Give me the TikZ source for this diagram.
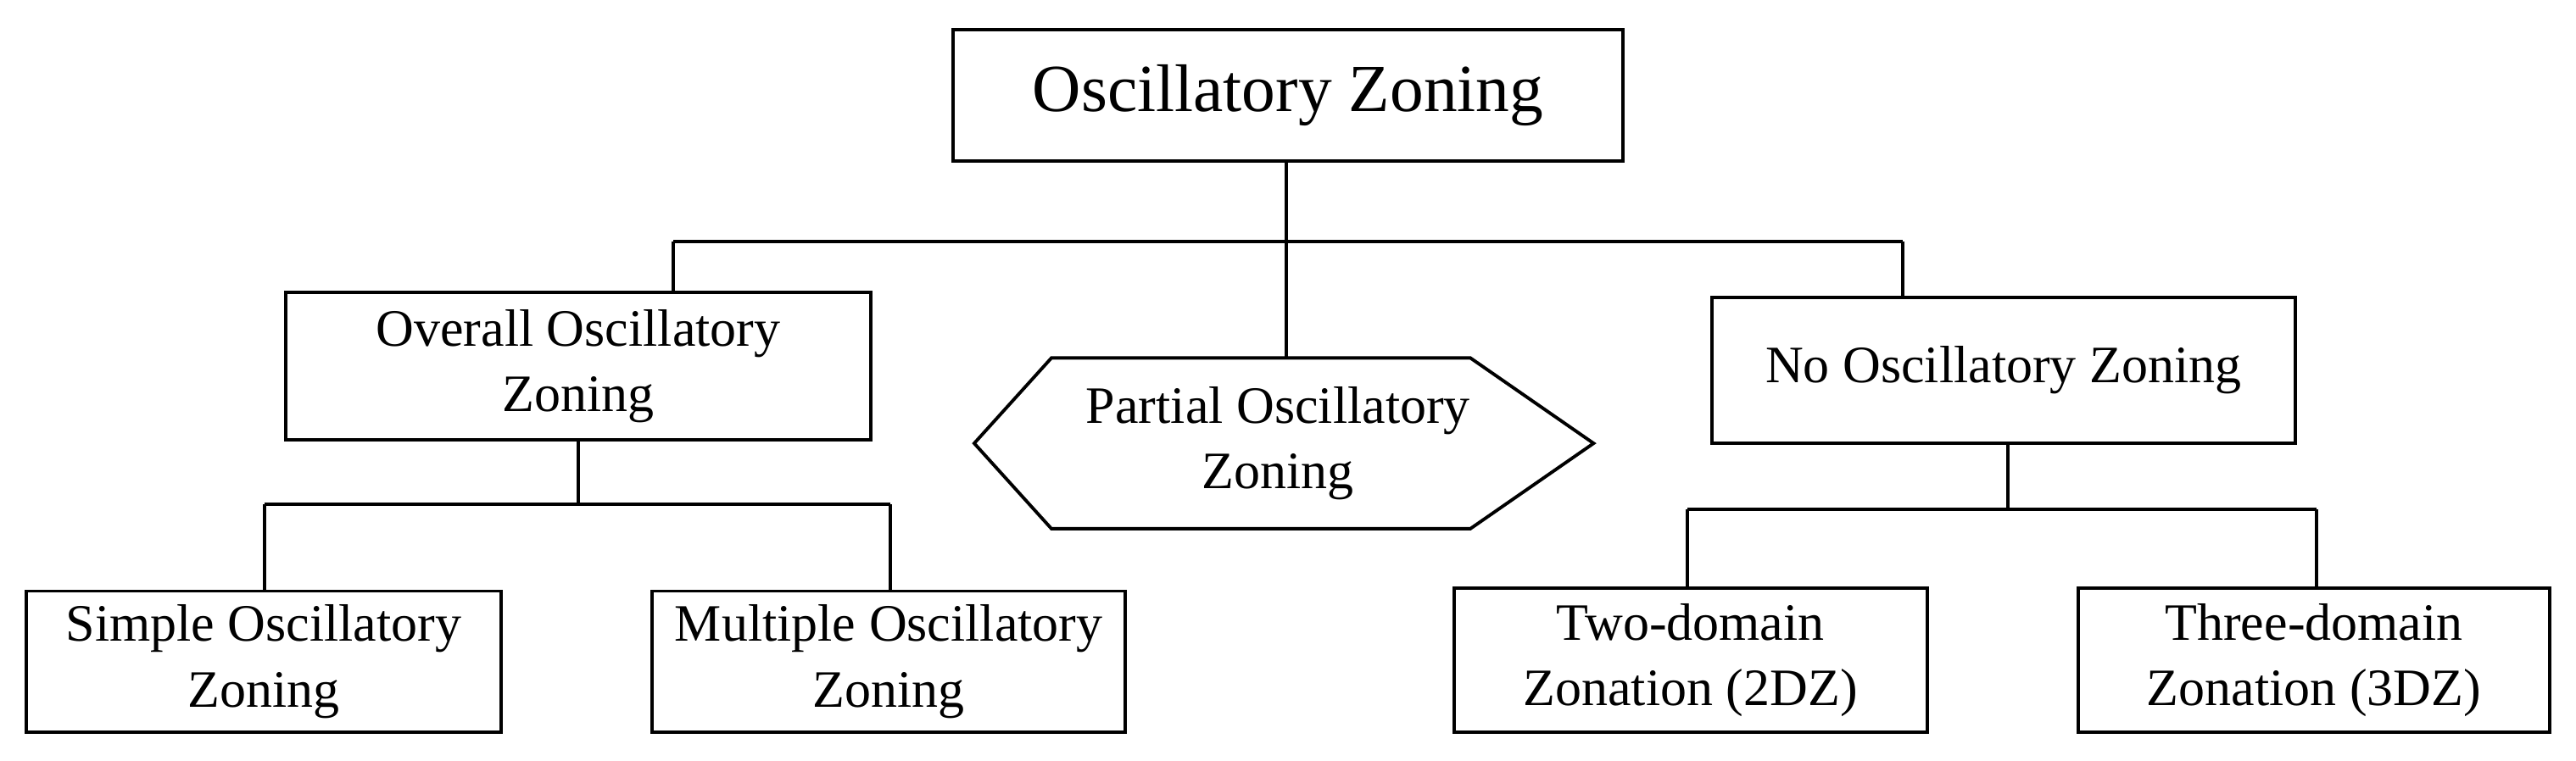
\documentclass[tikz,border=0pt]{standalone}
\usepackage{fontspec}
\setmainfont{Liberation Serif}
\begin{document}
\begin{tikzpicture}[x=1pt,y=-1pt,
  box/.style={draw,line width=2pt,align=center,inner sep=0pt,font=\fontsize{32}{40}\selectfont},
  ln/.style={line width=2pt}]
\useasboundingbox (0,0) rectangle (1568,463);
\node[box,minimum width=408pt,minimum height=80pt,font=\fontsize{41}{48}\selectfont] (top) at (784,58) {Oscillatory Zoning};
\node[box,minimum width=356pt,minimum height=90pt] (ov) at (352,223) {Overall Oscillatory\\Zoning};
\node[box,minimum width=355pt,minimum height=89pt] (no) at (1219.5,225.5) {No Oscillatory Zoning};
\coordinate (h1) at (593,270); \coordinate (h2) at (640,218); \coordinate (h3) at (895,218);
\coordinate (h4) at (970,270); \coordinate (h5) at (895,322); \coordinate (h6) at (640,322);
\draw[ln] (h1)--(h2)--(h3)--(h4)--(h5)--(h6)--cycle;
\node[align=center,font=\fontsize{32}{40}\selectfont] (pa) at (778,270) {Partial Oscillatory\\Zoning};
\node[box,minimum width=289pt,minimum height=86pt] (si) at (160.5,403) {Simple Oscillatory\\Zoning};
\node[box,minimum width=288pt,minimum height=86pt] (mu) at (541,403) {Multiple Oscillatory\\Zoning};
\node[box,minimum width=288pt,minimum height=88pt] (tw) at (1029,402) {Two-domain\\Zonation (2DZ)};
\node[box,minimum width=287pt,minimum height=88pt] (th) at (1408.5,402) {Three-domain\\Zonation (3DZ)};
\coordinate (hp) at (783,218);
\coordinate (ts) at (783,98);
\draw[ln] (ts) -- (783,147);
\draw[ln] (410,147) -- (1158,147);
\draw[ln] (410,147) -- (410,178);
\draw[ln] (1158,147) -- (1158,181);
\draw[ln] (783,147) -- (hp);
\draw[ln] (ov.south) -- (352,307);
\draw[ln] (161,307) -- (542,307);
\draw[ln] (161,307) -- (161,360);
\draw[ln] (542,307) -- (542,360);
\draw[ln] (1222,270) -- (1222,310);
\draw[ln] (1027,310) -- (1410,310);
\draw[ln] (1027,310) -- (1027,358);
\draw[ln] (1410,310) -- (1410,358);
\end{tikzpicture}
\end{document}
